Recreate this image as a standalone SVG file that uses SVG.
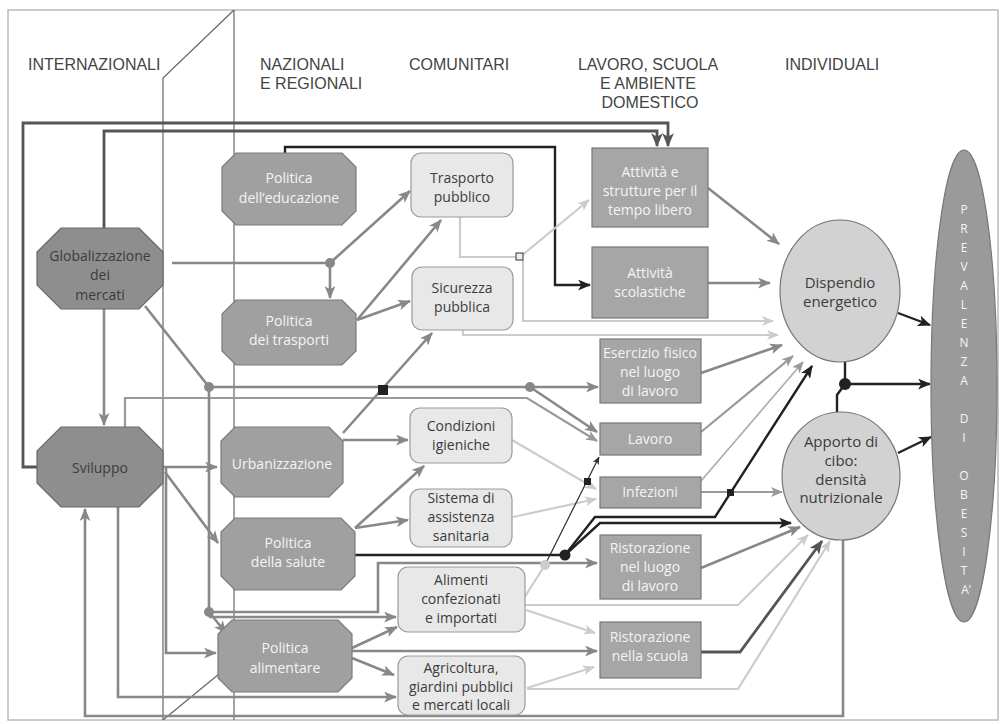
<svg xmlns="http://www.w3.org/2000/svg" width="1006" height="724" viewBox="0 0 1006 724">
<style>
.hd{font-family:"Liberation Sans","Open Sans",sans-serif;font-size:16px;fill:#444}
.t{font-family:"Open Sans","Liberation Sans",sans-serif;font-size:14px;text-anchor:middle}
.w{fill:#f4f4f4}
.k{fill:#3c3c3c}
.e{font-size:15px}
.pv{font-family:"Open Sans","Liberation Sans",sans-serif;font-size:12px;fill:#f4f4f4;text-anchor:middle}
.oct{fill:#a0a0a0;stroke:#7a7a7a;stroke-width:1.2}
.octd{fill:#8e8e8e;stroke:#6a6a6a;stroke-width:1.2}
.rr{fill:#e8e8e8;stroke:#9a9a9a;stroke-width:1.2}
.dr{fill:#a6a6a6;stroke:#777;stroke-width:1.2}
.el{fill:#d2d2d2;stroke:#777;stroke-width:1.2}
.g{fill:none;stroke:#888;stroke-width:2.6}
.g2{fill:none;stroke:#9a9a9a;stroke-width:2.2}
.l{fill:none;stroke:#cccccc;stroke-width:2.2}
.b{fill:none;stroke:#222;stroke-width:2.4}
.d{fill:none;stroke:#555;stroke-width:2.8}
.th{fill:none;stroke:#333;stroke-width:1.2}
.pl{fill:none;stroke:#666;stroke-width:1.2}
</style>
<defs>
<marker id="ag" viewBox="0 0 12 10" refX="11" refY="5" markerWidth="13" markerHeight="11" markerUnits="userSpaceOnUse" orient="auto"><path d="M0,0 L12,5 L0,10 L3,5 z" fill="#888"/></marker>
<marker id="ag2" viewBox="0 0 12 10" refX="11" refY="5" markerWidth="12" markerHeight="10" markerUnits="userSpaceOnUse" orient="auto"><path d="M0,0 L12,5 L0,10 L3,5 z" fill="#9a9a9a"/></marker>
<marker id="al" viewBox="0 0 12 10" refX="11" refY="5" markerWidth="12" markerHeight="10" markerUnits="userSpaceOnUse" orient="auto"><path d="M0,0 L12,5 L0,10 L3,5 z" fill="#cccccc"/></marker>
<marker id="ab" viewBox="0 0 12 10" refX="11" refY="5" markerWidth="13" markerHeight="11" markerUnits="userSpaceOnUse" orient="auto"><path d="M0,0 L12,5 L0,10 L3,5 z" fill="#222"/></marker>
<marker id="ad" viewBox="0 0 12 10" refX="11" refY="5" markerWidth="14" markerHeight="12" markerUnits="userSpaceOnUse" orient="auto"><path d="M0,0 L12,5 L0,10 L3,5 z" fill="#555"/></marker>
<marker id="at" viewBox="0 0 12 10" refX="11" refY="5" markerWidth="8" markerHeight="7" markerUnits="userSpaceOnUse" orient="auto"><path d="M0,0 L12,5 L0,10 L3,5 z" fill="#333"/></marker>
</defs>
<rect x="0" y="0" width="1006" height="724" fill="#fff"/>
<rect x="8" y="10" width="990" height="710" fill="none" stroke="#bbb" stroke-width="1.5"/>
<g id="panel">
<path class="pl" d="M234,10 V720"/>
<path class="pl" d="M234,10 L163,78 V720 M163,720 L219,674"/>
</g>
<g id="headers">
<text class="hd" x="28" y="70">INTERNAZIONALI</text>
<text class="hd" x="260" y="70">NAZIONALI</text>
<text class="hd" x="260" y="89">E REGIONALI</text>
<text class="hd" x="409" y="70">COMUNITARI</text>
<text class="hd" x="648" y="70" text-anchor="middle">LAVORO, SCUOLA</text>
<text class="hd" x="648" y="89" text-anchor="middle">E AMBIENTE</text>
<text class="hd" x="650" y="108" text-anchor="middle">DOMESTICO</text>
<text class="hd" x="785" y="70">INDIVIDUALI</text>
</g>
<g id="connectors">
<path class="d" d="M37,467 H23 V123 H668 V146" marker-end="url(#ad)"/>
<path class="d" d="M104,228 V131 H657 V146" marker-end="url(#ad)"/>
<path class="b" d="M285,153 V147 H555 V285 H590" marker-end="url(#ab)"/>
<path class="g" d="M172,263 H330"/>
<path class="g" d="M330,263 L410,191" marker-end="url(#ag)"/>
<path class="g" d="M330,263 V298" marker-end="url(#ag)"/>
<path class="g" d="M104,309 V425" marker-end="url(#ag)"/>
<path class="g" d="M145,306 L209,387"/>
<path class="g" d="M209,387 H598" marker-end="url(#ag)"/>
<path class="g" d="M530,387 L597,432" marker-end="url(#ag)"/>
<path class="g2" d="M125,427 V398 H527 L597,441" marker-end="url(#ag2)"/>
<path class="g" d="M209,387 V612"/>
<path class="g" d="M209,612 H378 V563 H597" marker-end="url(#ag)"/>
<path class="g" d="M209,617 H396" marker-end="url(#ag)"/>
<path class="g" d="M209,612 L226,633" marker-end="url(#ag)"/>
<path class="g" d="M163,467 H217" marker-end="url(#ag)"/>
<path class="g" d="M165,472 L218,543" marker-end="url(#ag)"/>
<path class="g" d="M166,467 V653 H216" marker-end="url(#ag)"/>
<path class="g" d="M118,507 V697 H396" marker-end="url(#ag)"/>
<path class="g" d="M843,540 V716 H85 V509" marker-end="url(#ag)"/>
<path class="g" d="M357,320 L441,220" marker-end="url(#ag)"/>
<path class="g" d="M357,320 L410,301" marker-end="url(#ag)"/>
<path class="g" d="M343,433 L432,333" marker-end="url(#ag)"/>
<path class="g" d="M343,440 H408" marker-end="url(#ag)"/>
<path class="g" d="M355,528 L424,466" marker-end="url(#ag)"/>
<path class="g" d="M355,528 L408,520" marker-end="url(#ag)"/>
<path class="g" d="M352,648 L397,627" marker-end="url(#ag)"/>
<path class="g" d="M352,651 H597" marker-end="url(#ag)"/>
<path class="g" d="M352,658 L394,675" marker-end="url(#ag)"/>
<path class="g" d="M708,188 L779,244" marker-end="url(#ag)"/>
<path class="g" d="M708,283 H770" marker-end="url(#ag)"/>
<path class="g" d="M701,373 L782,345" marker-end="url(#ag)"/>
<path class="g2" d="M701,432 L793,356" marker-end="url(#ag2)"/>
<path fill="none" stroke="#aaa" stroke-width="1.6" d="M701,481 L803,362" marker-end="url(#ag2)"/>
<path class="g2" d="M701,492 H782" marker-end="url(#ag2)"/>
<path class="g" d="M701,568 L800,527" marker-end="url(#ag)"/>
<path class="d" d="M701,652 H740 L822,541" marker-end="url(#ad)"/>
<path class="l" d="M460,217 V257 H520"/>
<path class="l" d="M520,257 L589,200" marker-end="url(#al)"/>
<path class="l" d="M523,260 V321 H773" marker-end="url(#al)"/>
<path class="l" d="M463,330 V335 H778" marker-end="url(#al)"/>
<path class="l" d="M512,440 L596,489" marker-end="url(#al)"/>
<path class="l" d="M513,517 L596,499" marker-end="url(#al)"/>
<path class="l" d="M524,598 L545,565"/>
<path class="l" d="M525,605 H738 L808,535" marker-end="url(#al)"/>
<path class="l" d="M526,610 L595,633" marker-end="url(#al)"/>
<path class="l" d="M527,688 L594,667" marker-end="url(#al)"/>
<path class="l" d="M527,689 H738 L830,541" marker-end="url(#al)"/>
<path class="th" d="M545,565 L599,457" marker-end="url(#at)"/>
<path class="b" d="M355,555 H565"/>
<path class="b" d="M565,555 L595,517 H715 L812,366" marker-end="url(#ab)"/>
<path class="b" d="M565,555 L600,523 H791" marker-end="url(#ab)"/>
<path class="b" d="M898,313 L930,325" marker-end="url(#ab)"/>
<path class="b" d="M845,362 V384 M837,412 V395 L845,384"/>
<path class="b" d="M845,384 H930" marker-end="url(#ab)"/>
<path class="b" d="M898,453 L931,437" marker-end="url(#ab)"/>
<circle cx="330" cy="263" r="5" fill="#888"/>
<circle cx="209" cy="387" r="5" fill="#888"/>
<circle cx="530" cy="387" r="5" fill="#888"/>
<circle cx="209" cy="612" r="5" fill="#888"/>
<circle cx="545" cy="565" r="5" fill="#cccccc"/>
<circle cx="565" cy="555" r="5.5" fill="#222"/>
<circle cx="845" cy="384" r="6" fill="#222"/>
<rect x="378" y="385" width="10" height="10" fill="#222"/>
<rect x="516" y="253" width="7" height="7" fill="#eee" stroke="#333" stroke-width="1"/>
<rect x="584" y="478" width="7" height="7" fill="#222"/>
<rect x="727" y="489" width="7" height="7" fill="#222"/>
</g>
<g id="globalizzazione">
<polygon class="octd" points="61,228 139,228 163,252 163,285 139,309 61,309 37,285 37,252"/>
<text class="t k" x="100" y="261">Globalizzazione</text>
<text class="t k" x="100" y="280">dei</text>
<text class="t k" x="100" y="300">mercati</text>
</g>
<g id="sviluppo">
<polygon class="octd" points="61,427 139,427 163,451 163,483 139,507 61,507 37,483 37,451"/>
<text class="t k" x="100" y="473">Sviluppo</text>
</g>
<g id="pol-educazione">
<polygon class="oct" points="236,153 342,153 356,167 356,211 342,225 236,225 222,211 222,167"/>
<text class="t w" x="289" y="183">Politica</text>
<text class="t w" x="289" y="203">dell’educazione</text>
</g>
<g id="pol-trasporti">
<polygon class="oct" points="236,300 342,300 356,314 356,351 342,365 236,365 222,351 222,314"/>
<text class="t w" x="289" y="326">Politica</text>
<text class="t w" x="289" y="345">dei trasporti</text>
</g>
<g id="urbanizzazione">
<polygon class="oct" points="235,427 329,427 343,441 343,483 329,497 235,497 221,483 221,441"/>
<text class="t w" x="282" y="469">Urbanizzazione</text>
</g>
<g id="pol-salute">
<polygon class="oct" points="235,518 341,518 355,532 355,576 341,590 235,590 221,576 221,532"/>
<text class="t w" x="288" y="548">Politica</text>
<text class="t w" x="288" y="567">della salute</text>
</g>
<g id="pol-alimentare">
<polygon class="oct" points="232,620 338,620 352,634 352,678 338,692 232,692 218,678 218,634"/>
<text class="t w" x="285" y="653">Politica</text>
<text class="t w" x="285" y="673">alimentare</text>
</g>
<g id="trasporto">
<rect class="rr" x="411" y="153" width="102" height="64" rx="10"/>
<text class="t k" x="462" y="183">Trasporto</text>
<text class="t k" x="462" y="202">pubblico</text>
</g>
<g id="sicurezza">
<rect class="rr" x="412" y="267" width="101" height="63" rx="10"/>
<text class="t k" x="462" y="293">Sicurezza</text>
<text class="t k" x="462" y="312">pubblica</text>
</g>
<g id="condizioni">
<rect class="rr" x="410" y="408" width="102" height="55" rx="10"/>
<text class="t k" x="461" y="431">Condizioni</text>
<text class="t k" x="461" y="450">igieniche</text>
</g>
<g id="sistema">
<rect class="rr" x="410" y="489" width="102" height="58" rx="10"/>
<text class="t k" x="461" y="503">Sistema di</text>
<text class="t k" x="461" y="522">assistenza</text>
<text class="t k" x="461" y="541">sanitaria</text>
</g>
<g id="alimenti">
<rect class="rr" x="398" y="567" width="127" height="65" rx="10"/>
<text class="t k" x="461" y="585">Alimenti</text>
<text class="t k" x="461" y="604">confezionati</text>
<text class="t k" x="461" y="623">e importati</text>
</g>
<g id="agricoltura">
<rect class="rr" x="398" y="656" width="127" height="59" rx="10"/>
<text class="t k" x="461" y="673">Agricoltura,</text>
<text class="t k" x="461" y="692">giardini pubblici</text>
<text class="t k" x="461" y="710">e mercati locali</text>
</g>
<g id="attivita-tempo">
<rect class="dr" x="592" y="148" width="116" height="79"/>
<text class="t w" x="650" y="177">Attività e</text>
<text class="t w" x="650" y="196">strutture per il</text>
<text class="t w" x="650" y="215">tempo libero</text>
</g>
<g id="attivita-scol">
<rect class="dr" x="592" y="247" width="116" height="71"/>
<text class="t w" x="650" y="278">Attività</text>
<text class="t w" x="650" y="297">scolastiche</text>
</g>
<g id="esercizio">
<rect class="dr" x="600" y="339" width="101" height="64"/>
<text class="t w" x="650" y="358">Esercizio fisico</text>
<text class="t w" x="650" y="377">nel luogo</text>
<text class="t w" x="650" y="396">di lavoro</text>
</g>
<g id="lavoro">
<rect class="dr" x="600" y="423" width="101" height="32"/>
<text class="t w" x="650" y="444">Lavoro</text>
</g>
<g id="infezioni">
<rect class="dr" x="600" y="477" width="101" height="31"/>
<text class="t w" x="650" y="497">Infezioni</text>
</g>
<g id="rist-lavoro">
<rect class="dr" x="600" y="535" width="101" height="64"/>
<text class="t w" x="650" y="553">Ristorazione</text>
<text class="t w" x="650" y="572">nel luogo</text>
<text class="t w" x="650" y="591">di lavoro</text>
</g>
<g id="rist-scuola">
<rect class="dr" x="600" y="622" width="101" height="56"/>
<text class="t w" x="650" y="642">Ristorazione</text>
<text class="t w" x="650" y="661">nella scuola</text>
</g>
<g id="dispendio">
<ellipse class="el" cx="840" cy="291" rx="60" ry="71"/>
<text class="t k e" x="840" y="288">Dispendio</text>
<text class="t k e" x="840" y="307">energetico</text>
</g>
<g id="apporto">
<ellipse class="el" cx="841" cy="476" rx="59" ry="64"/>
<text class="t k e" x="841" y="447">Apporto di</text>
<text class="t k e" x="841" y="466">cibo:</text>
<text class="t k e" x="841" y="485">densità</text>
<text class="t k e" x="841" y="503">nutrizionale</text>
</g>
<g id="prevalenza">
<ellipse cx="964" cy="386" rx="33" ry="236" fill="#9a9a9a" stroke="#777" stroke-width="1.2"/>
<text class="pv" x="964" y="214">P</text>
<text class="pv" x="964" y="233">R</text>
<text class="pv" x="964" y="252">E</text>
<text class="pv" x="964" y="271">V</text>
<text class="pv" x="964" y="290">A</text>
<text class="pv" x="964" y="309">L</text>
<text class="pv" x="964" y="328">E</text>
<text class="pv" x="964" y="347">N</text>
<text class="pv" x="964" y="366">Z</text>
<text class="pv" x="964" y="385">A</text>
<text class="pv" x="964" y="423">D</text>
<text class="pv" x="964" y="442">I</text>
<text class="pv" x="964" y="480">O</text>
<text class="pv" x="964" y="499">B</text>
<text class="pv" x="964" y="518">E</text>
<text class="pv" x="964" y="537">S</text>
<text class="pv" x="964" y="556">I</text>
<text class="pv" x="964" y="575">T</text>
<text class="pv" x="966" y="594">A’</text>
</g>
</svg>
